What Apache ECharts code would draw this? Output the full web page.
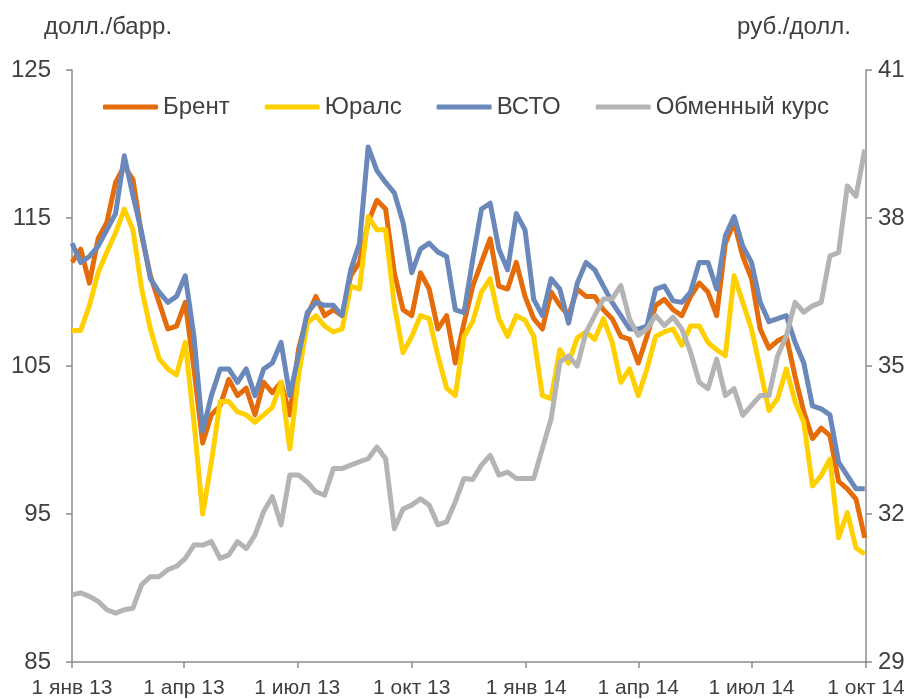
<!DOCTYPE html>
<html>
<head>
<meta charset="utf-8">
<script src="https://cdn.jsdelivr.net/npm/echarts@6/dist/echarts.min.js"></script>
<style>
html,body{margin:0;padding:0;background:#fff;}
#chart{width:920px;height:699px;}
</style>
</head>
<body>
<div id="chart"></div>
<script>
// Weekly sample dates
var dates = [
'2013-01-01','2013-01-08','2013-01-15','2013-01-22','2013-01-29','2013-02-05','2013-02-12','2013-02-19','2013-02-26','2013-03-05',
'2013-03-12','2013-03-19','2013-03-26','2013-04-02','2013-04-09','2013-04-16','2013-04-23','2013-04-30','2013-05-07','2013-05-14',
'2013-05-21','2013-05-28','2013-06-04','2013-06-11','2013-06-18','2013-06-25','2013-07-02','2013-07-09','2013-07-16','2013-07-23',
'2013-07-30','2013-08-06','2013-08-13','2013-08-20','2013-08-27','2013-09-03','2013-09-10','2013-09-17','2013-09-24','2013-10-01',
'2013-10-08','2013-10-15','2013-10-22','2013-10-29','2013-11-05','2013-11-12','2013-11-19','2013-11-26','2013-12-03','2013-12-10',
'2013-12-17','2013-12-24','2013-12-31','2014-01-07','2014-01-14','2014-01-21','2014-01-28','2014-02-04','2014-02-11','2014-02-18',
'2014-02-25','2014-03-04','2014-03-11','2014-03-18','2014-03-25','2014-04-01','2014-04-08','2014-04-15','2014-04-22','2014-04-29',
'2014-05-06','2014-05-13','2014-05-20','2014-05-27','2014-06-03','2014-06-10','2014-06-17','2014-06-24','2014-07-01','2014-07-08',
'2014-07-15','2014-07-22','2014-07-29','2014-08-05','2014-08-12','2014-08-19','2014-08-26','2014-09-02','2014-09-09','2014-09-16',
'2014-09-23','2014-09-30'
];
var brent = [
112.0,112.9,110.6,113.6,114.7,117.4,118.5,117.6,113.8,111.1,
109.3,107.5,107.7,109.3,104.8,99.8,101.7,102.3,104.1,103.0,
103.5,101.7,103.9,103.2,103.9,101.7,106.1,108.4,109.7,108.4,
108.8,108.4,111.1,112.0,114.7,116.2,115.6,111.3,108.8,108.4,
111.3,110.2,107.5,108.4,105.2,107.9,110.4,112.0,113.6,110.4,
110.2,112.0,109.7,108.2,107.5,110.0,109.1,108.4,110.2,109.7,
109.7,108.8,108.2,107.0,106.8,105.2,107.0,109.1,109.5,108.8,
108.4,109.7,110.6,110.0,108.4,113.3,114.7,112.4,110.9,107.5,
106.2,106.7,107.0,104.3,101.9,100.1,100.8,100.3,97.2,96.7,
96.0,93.4
];
var urals = [
107.4,107.4,109.1,111.3,112.7,114.0,115.6,114.2,110.2,107.5,
105.5,104.8,104.4,106.6,101.2,95.0,98.5,102.6,102.6,101.9,
101.7,101.2,101.7,102.2,103.9,99.4,104.3,107.9,108.4,107.7,
107.3,107.5,110.4,110.2,115.1,114.2,114.2,109.1,105.9,107.0,
108.4,108.2,105.7,103.5,103.0,107.0,108.0,110.0,110.9,108.2,
107.0,108.4,108.1,107.0,103.0,102.8,106.1,105.2,106.9,107.3,
106.8,108.2,106.6,103.9,104.8,103.0,104.8,107.0,107.3,107.5,
106.4,107.7,107.7,106.6,106.1,105.7,111.1,109.3,107.5,104.8,
102.0,102.8,104.8,102.6,101.2,96.9,97.6,98.7,93.4,95.1,
92.7,92.3
];
var espo = [
113.3,112.0,112.4,113.1,114.2,115.3,119.2,116.5,114.0,110.9,
110.0,109.3,109.7,111.1,107.0,100.6,103.0,104.8,104.8,103.9,
104.8,103.0,104.8,105.2,106.6,103.0,105.7,108.6,109.3,109.1,
109.1,108.4,111.5,113.3,119.8,118.2,117.4,116.7,114.7,111.3,
112.9,113.3,112.7,112.4,108.8,108.6,112.2,115.6,116.0,112.9,
111.5,115.3,114.2,109.5,108.4,110.9,110.2,107.9,110.6,112.0,
111.5,110.4,109.3,108.4,107.5,107.5,107.7,110.2,110.4,109.4,
109.3,110.0,112.0,112.0,110.2,113.8,115.1,113.1,112.0,109.3,
108.0,108.2,108.4,106.6,105.2,102.3,102.1,101.7,98.5,97.6,
96.7,96.7
];
var rate = [
30.36,30.40,30.33,30.23,30.06,29.99,30.06,30.09,30.57,30.73,
30.73,30.87,30.94,31.10,31.37,31.37,31.44,31.10,31.17,31.44,
31.30,31.57,32.05,32.35,31.78,32.79,32.79,32.65,32.45,32.38,
32.92,32.92,32.99,33.06,33.12,33.36,33.12,31.70,32.10,32.18,
32.31,32.18,31.78,31.84,32.25,32.72,32.70,32.99,33.19,32.79,
32.85,32.72,32.72,32.72,33.33,33.93,35.08,35.20,35.00,35.68,
36.02,36.36,36.36,36.63,35.95,35.62,35.75,36.02,35.82,35.99,
35.75,35.28,34.67,34.54,35.14,34.40,34.54,34.00,34.20,34.40,
34.40,35.21,35.61,36.29,36.09,36.22,36.29,37.23,37.30,38.65,
38.44,39.39
];
var tickDates = ['2013-01-01','2013-04-01','2013-07-01','2013-10-01','2014-01-01','2014-04-01','2014-07-01','2014-10-01'];
var tickLabels = ['1 янв 13','1 апр 13','1 июл 13','1 окт 13','1 янв 14','1 апр 14','1 июл 14','1 окт 14'];
var leftTicks = [85, 95, 105, 115, 125];
var rightTicks = [29, 32, 35, 38, 41];
var seriesNames = ['Брент', 'Юралс', 'ВСТО', 'Обменный курс'];

// date string -> day number since 1 Jan 2013 (linear date scale)
function dayNum(s) {
  var p = s.split('-');
  return Math.round((Date.UTC(+p[0], +p[1] - 1, +p[2]) - Date.UTC(2013, 0, 1)) / 86400000);
}
var tickDays = tickDates.map(dayNum);
function pairs(vals) {
  return vals.map(function (v, i) { return [dayNum(dates[i]), v]; });
}

var FONT = '"Liberation Sans", Arial, sans-serif';
var TXT = '#404040';
var AX = '#8c8c8c';

var chart = echarts.init(document.getElementById('chart'), null, { renderer: 'canvas' });
var colors = ['#E46C0A', '#FFD000', '#6A88B9', '#B4B4B4'];
var lw = 5;

chart.setOption({
  animation: false,
  backgroundColor: '#fff',
  textStyle: { fontFamily: FONT },
  grid: { left: 72, right: 54, top: 70, bottom: 35, containLabel: false },
  legend: {
    data: seriesNames,
    left: 103, top: 95,
    icon: 'roundRect',
    itemWidth: 55, itemHeight: 5, itemGap: 35,
    padding: 0,
    textStyle: { fontSize: 24, color: TXT, fontFamily: FONT }
  },
  graphic: [
    { type: 'text', left: 44, top: 15, style: { text: 'долл./барр.', font: '24px ' + FONT, fill: TXT } },
    { type: 'text', right: 69, top: 15, style: { text: 'руб./долл.', font: '24px ' + FONT, fill: TXT } }
  ],
  xAxis: {
    type: 'value',
    min: tickDays[0],
    max: tickDays[tickDays.length - 1],
    axisLine: { show: true, onZero: false, lineStyle: { color: AX, width: 1.5 } },
    axisTick: { show: true, length: 6, customValues: tickDays, lineStyle: { color: AX, width: 1.5 } },
    axisLabel: {
      customValues: tickDays,
      fontSize: 21, color: TXT, fontFamily: FONT, margin: 16,
      hideOverlap: false,
      formatter: function (v) {
        var idx = tickDays.indexOf(v);
        return idx >= 0 ? tickLabels[idx] : '';
      }
    },
    splitLine: { show: false }
  },
  yAxis: [
    {
      type: 'value', min: 85, max: 125, interval: 10, position: 'left',
      axisLine: { show: true, lineStyle: { color: AX, width: 1.5 } },
      axisTick: { show: true, length: 6, customValues: leftTicks, lineStyle: { color: AX, width: 1.5 } },
      axisLabel: { customValues: leftTicks, fontSize: 24, color: TXT, fontFamily: FONT, margin: 21 },
      splitLine: { show: false }
    },
    {
      type: 'value', min: 29, max: 41, position: 'right',
      axisLine: { show: true, lineStyle: { color: AX, width: 1.5 } },
      axisTick: { show: true, length: 6, customValues: rightTicks, lineStyle: { color: AX, width: 1.5 } },
      axisLabel: { customValues: rightTicks, fontSize: 24, color: TXT, fontFamily: FONT, margin: 12 },
      splitLine: { show: false }
    }
  ],
  series: [
    { name: seriesNames[0], type: 'line', yAxisIndex: 0, data: pairs(brent), showSymbol: false, symbol: 'none', color: colors[0], lineStyle: { width: lw, color: colors[0], join: 'round' } },
    { name: seriesNames[1], type: 'line', yAxisIndex: 0, data: pairs(urals), showSymbol: false, symbol: 'none', color: colors[1], lineStyle: { width: lw, color: colors[1], join: 'round' } },
    { name: seriesNames[2], type: 'line', yAxisIndex: 0, data: pairs(espo), showSymbol: false, symbol: 'none', color: colors[2], lineStyle: { width: lw, color: colors[2], join: 'round' } },
    { name: seriesNames[3], type: 'line', yAxisIndex: 1, data: pairs(rate), showSymbol: false, symbol: 'none', color: colors[3], lineStyle: { width: lw, color: colors[3], join: 'round' } }
  ]
});
</script>
</body>
</html>
